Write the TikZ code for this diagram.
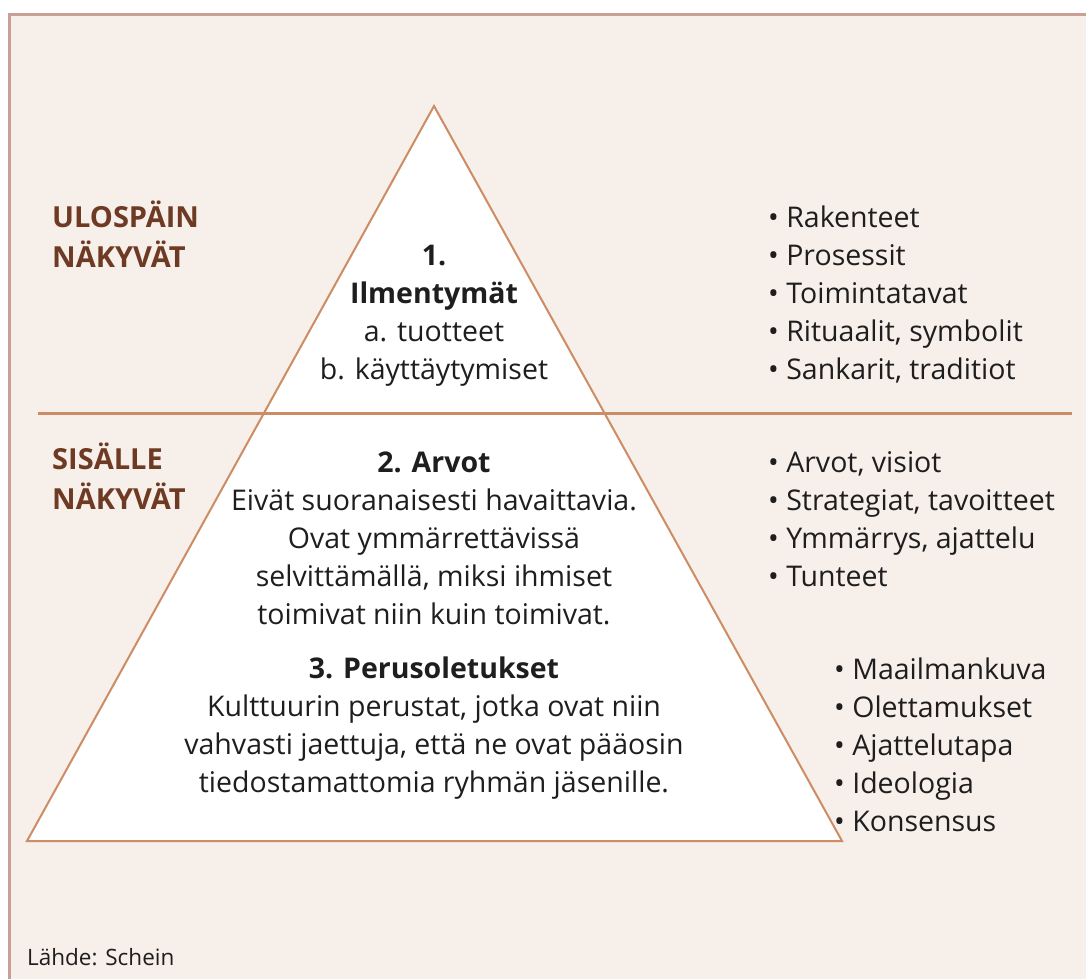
\documentclass[tikz,border=0pt]{standalone}
\usepackage{fontspec}
\setmainfont{Open Sans}
\definecolor{bgbeige}{RGB}{247,239,234}
\definecolor{framerose}{RGB}{200,160,150}
\definecolor{lineorange}{RGB}{205,140,100}
\definecolor{headbrown}{RGB}{110,58,35}
\definecolor{textdark}{RGB}{30,30,30}
\tikzset{
	head/.style={anchor=base west, align=left, inner sep=0pt, text=headbrown,
		font=\fontsize{29}{40}\selectfont\bfseries},
	body/.style={anchor=base, align=center, inner sep=0pt, text=textdark,
		font=\fontsize{28.5}{37.8}\selectfont},
	bulletlist/.style={anchor=base west, align=left, inner sep=0pt, text=textdark,
		font=\fontsize{28.5}{37.8}\selectfont},
	layerline/.style={draw=lineorange, line width=3pt}
}

\begin{document}
\begin{tikzpicture}[x=1pt,y=-1pt]
		\useasboundingbox (0,0) rectangle (1086,979);
		% tausta ja kehys
		\fill[bgbeige] (9.5,14.5) rectangle (1086,979);
		\draw[framerose, line width=3.5pt] (9.5,979) -- (9.5,14.5) -- (1086,14.5);
		% pyramidi
		\coordinate (apex) at (434,106);
		\coordinate (baseL) at (27,841);
		\coordinate (baseR) at (842,841);
		\filldraw[fill=white, draw=lineorange, line width=2pt] (apex) -- (baseL) -- (baseR) -- cycle;
		% jakoviiva
		\coordinate (divL) at (38,413.5);
		\coordinate (divR) at (1072,413.5);
		\draw[layerline] (divL) -- (divR);
		% otsikot vasemmalla (ankkuri = viimeisen rivin perusviiva)
		\node[head] (ulos) at (52,267){ULOSPÄIN\\NÄKYVÄT};
		\node[head] (sisa) at (52,509){SISÄLLE\\NÄKYVÄT};
		% tasot
		\node[body] (ilm) at (434,379){\textbf{1.}\\\textbf{Ilmentymät}\\a. tuotteet\\b. käyttäytymiset};
		\node[body] (arvot) at (434,624){\textbf{2. Arvot}\\Eivät suoranaisesti havaittavia.\\Ovat ymmärrettävissä\\selvittämällä, miksi ihmiset\\toimivat niin kuin toimivat.};
		\node[body] (perus) at (434,792){\textbf{3. Perusoletukset}\\Kulttuurin perustat, jotka ovat niin\\vahvasti jaettuja, että ne ovat pääosin\\tiedostamattomia ryhmän jäsenille.};
		% luettelot oikealla
		\node[bulletlist] (lista1) at (768,379){• Rakenteet\\• Prosessit\\• Toimintatavat\\• Rituaalit, symbolit\\• Sankarit, traditiot};
		\node[bulletlist] (lista2) at (768,586){• Arvot, visiot\\• Strategiat, tavoitteet\\• Ymmärrys, ajattelu\\• Tunteet};
		\node[bulletlist] (lista3) at (834,831){• Maailmankuva\\• Olettamukset\\• Ajattelutapa\\• Ideologia\\• Konsensus};
		% lähde
		\node[anchor=base west, inner sep=0pt, text=textdark, font=\fontsize{22.5}{25}\selectfont] (lahde) at (27,965){Lähde: Schein};
\end{tikzpicture}
\end{document}
